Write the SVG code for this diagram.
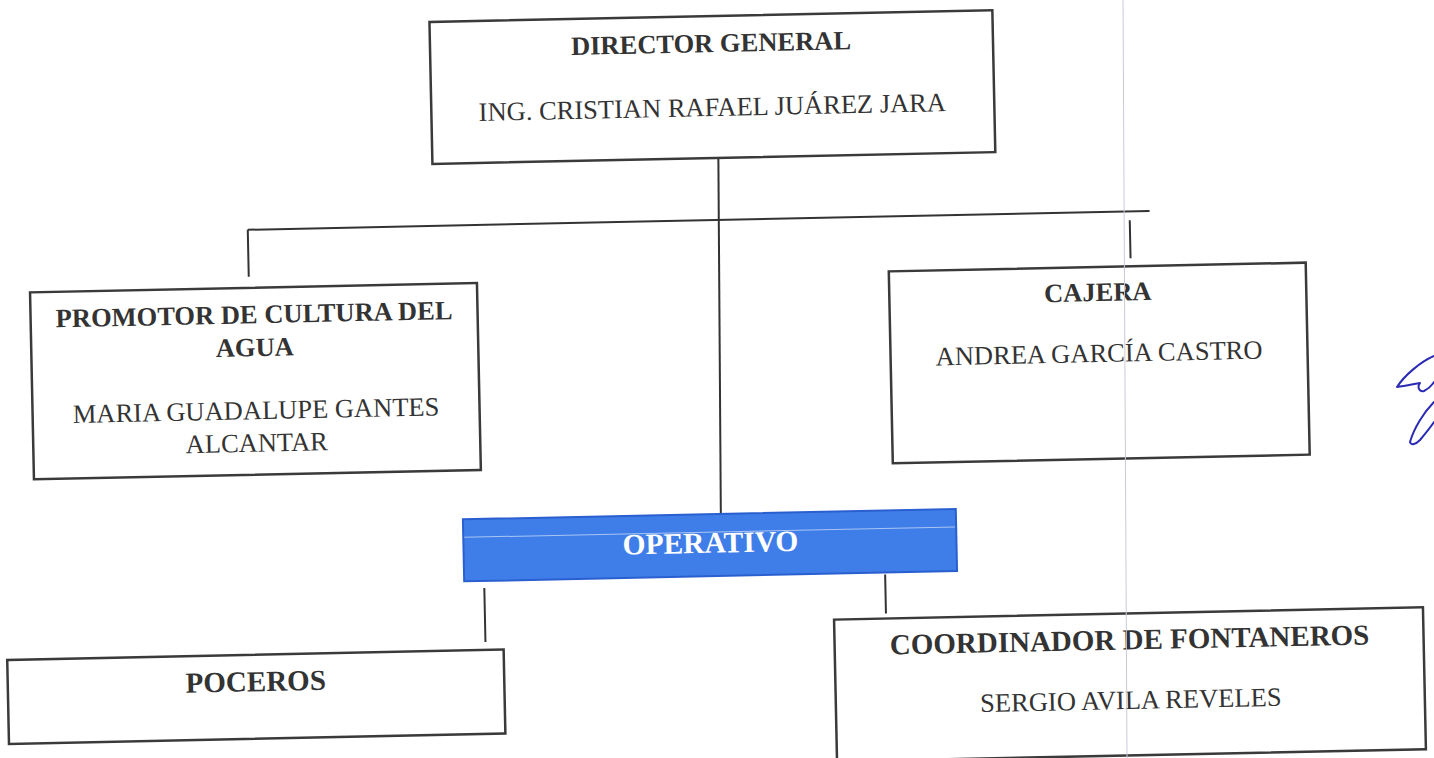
<svg xmlns="http://www.w3.org/2000/svg" width="1434" height="758" viewBox="0 0 1434 758">
  <style>
    .box { fill: #ffffff; stroke: #3a3a3a; stroke-width: 2.5; }
    .conn { stroke: #333333; stroke-width: 2; fill: none; }
    .t { font-family: "Liberation Serif", "Times New Roman", serif; fill: #333333; text-anchor: middle; }
    .b { font-weight: bold; }
    .op { fill: #3f7ee9; stroke: #2a5fd0; stroke-width: 2; }
    .opt { font-family: "Liberation Serif", "Times New Roman", serif; fill: #ffffff; font-weight: bold; text-anchor: middle; font-size: 29.5px; }
  </style>
  <rect x="0" y="0" width="1434" height="758" fill="#ffffff"/>
  <g transform="rotate(-1.2 717 379)">
    <g id="connectors">
      <line class="conn" x1="723" y1="158" x2="718" y2="514"/>
      <line class="conn" x1="251" y1="220" x2="1153" y2="220"/>
      <line class="conn" x1="251" y1="220" x2="251" y2="267"/>
      <line class="conn" x1="1133" y1="229" x2="1133" y2="267"/>
      <line class="conn" x1="480" y1="583" x2="480" y2="637"/>
      <line class="conn" x1="881" y1="578" x2="881" y2="617"/>
    </g>
    <g id="director">
      <rect class="box" x="437" y="16" width="563" height="142"/>
      <text class="t b" x="718" y="52" font-size="26.5">DIRECTOR GENERAL</text>
      <text class="t" x="718" y="116" font-size="26.5">ING. CRISTIAN RAFAEL JUÁREZ JARA</text>
    </g>
    <g id="promotor">
      <rect class="box" x="32" y="278" width="447" height="187"/>
      <text class="t b" x="255.5" y="313.5" font-size="26.5">PROMOTOR DE CULTURA DEL</text>
      <text class="t b" x="255.5" y="346.5" font-size="26.5">AGUA</text>
      <text class="t" x="255.5" y="409.5" font-size="26.5">MARIA GUADALUPE GANTES</text>
      <text class="t" x="255.5" y="442" font-size="26.5">ALCANTAR</text>
    </g>
    <g id="cajera">
      <rect class="box" x="891" y="275" width="417" height="192"/>
      <text class="t b" x="1099.5" y="309" font-size="26.5">CAJERA</text>
      <text class="t" x="1099.5" y="370" font-size="26.5">ANDREA GARCÍA CASTRO</text>
    </g>
    <g id="operativo">
      <rect class="op" x="460" y="514" width="493" height="62"/>
      <line x1="461" y1="532" x2="952" y2="532" stroke="#a9c4f3" stroke-width="1"/>
      <text class="opt" x="707" y="552.5">OPERATIVO</text>
    </g>
    <g id="poceros">
      <rect class="box" x="1.5" y="645" width="496.5" height="84"/>
      <text class="t b" x="249.5" y="681.5" font-size="29">POCEROS</text>
    </g>
    <g id="coordinador">
      <rect class="box" x="829" y="622" width="589" height="142"/>
      <text class="t b" x="1124" y="658" font-size="29">COORDINADOR DE FONTANEROS</text>
      <text class="t" x="1124" y="717.5" font-size="26.5">SERGIO AVILA REVELES</text>
    </g>
  </g>
  <line x1="1123" y1="0" x2="1127" y2="758" stroke="#c9c9d6" stroke-width="1"/>
  <g id="signature" fill="none" stroke="#2a2ab5" stroke-width="2" stroke-linecap="round" stroke-linejoin="round">
    <path d="M1434,356 C1420,362 1404,376 1397,387 C1405,386 1414,384 1420,383 C1417,387 1419,392 1424,391 C1428,389 1432,385 1434,382"/>
    <path d="M1434,402 C1424,412 1414,428 1410,442 C1411,446 1416,444 1420,440 C1425,434 1430,428 1434,422"/>
  </g>
</svg>
